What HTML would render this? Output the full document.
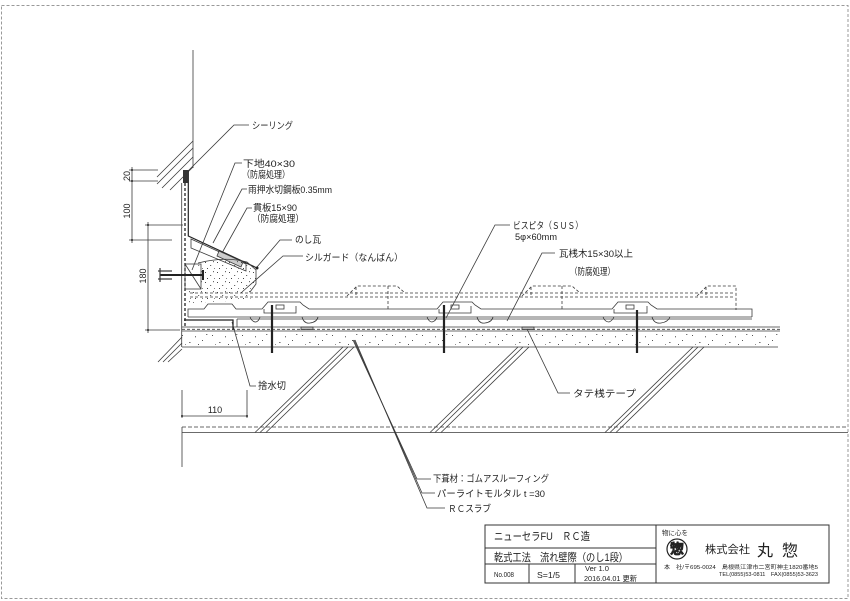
<!DOCTYPE html>
<html><head><meta charset="utf-8">
<style>
html,body{margin:0;padding:0;background:#fff;}
svg{display:block;}
text{font-family:"Liberation Sans","Noto Sans CJK JP",sans-serif;fill:#222;}
</style></head><body>
<svg width="850" height="601" viewBox="0 0 850 601" xmlns="http://www.w3.org/2000/svg">
<defs>
<pattern id="st" width="30" height="16" patternUnits="userSpaceOnUse" x="0" y="331">
 <g fill="#555">
 <rect x="2" y="4" width="1" height="1"/>
 <rect x="9" y="11" width="1.6" height="0.8"/>
 <rect x="15" y="5" width="0.8" height="1.4"/>
 <rect x="22" y="9" width="1" height="1"/>
 <rect x="26" y="3" width="1.4" height="0.8"/>
 <rect x="5" y="13" width="0.8" height="0.8"/>
 <rect x="18" y="13" width="1" height="1"/>
 </g>
</pattern>
<pattern id="st2" width="12" height="10" patternUnits="userSpaceOnUse">
 <g fill="#444">
 <rect x="1" y="2" width="1" height="1"/>
 <rect x="6" y="5" width="1.2" height="0.8"/>
 <rect x="9" y="1" width="0.8" height="1.2"/>
 <rect x="3" y="8" width="1" height="1"/>
 <rect x="10" y="8" width="0.8" height="0.8"/>
 </g>
</pattern>
</defs>
<rect width="850" height="601" fill="#fff"/>
<!-- outer dashed border -->
<rect x="1.5" y="5.5" width="846.5" height="593" fill="none" stroke="#999" stroke-width="1" stroke-dasharray="3 2"/>

<g stroke="#3a3a3a" stroke-width="0.8" fill="none">
 <!-- wall -->
 <line x1="193" y1="50" x2="193" y2="168"/>
 <line x1="157" y1="177" x2="193" y2="141"/>
 <line x1="157" y1="184" x2="193" y2="148"/>
 <line x1="162" y1="188" x2="193" y2="157"/>
 <line x1="170" y1="190" x2="193" y2="167"/>
 <!-- dimension extension lines -->
 <line x1="129" y1="170" x2="158" y2="170"/>
 <line x1="129" y1="181" x2="158" y2="181"/>
 <line x1="129" y1="240" x2="172" y2="240"/>
 <line x1="145" y1="225" x2="183" y2="225"/>
 <line x1="145" y1="330" x2="180" y2="330"/>
 <line x1="132" y1="167" x2="132" y2="243"/>
 <line x1="148" y1="222" x2="148" y2="333"/>
 <!-- base wall lines -->
 <line x1="181.7" y1="183" x2="181.7" y2="347"/>
 <line x1="185" y1="183" x2="185" y2="328" stroke="#222" stroke-width="1.3" stroke-dasharray="3 2"/>
 <!-- flashing -->
 <polyline points="188.3,170 188.3,236 257,268" stroke="#222" stroke-width="1.2"/>
 <!-- upper noshi tile -->
 <polygon points="191,239 246,264 246,271 191,248"/>
 <polygon points="219,251 243,262 241,267 217,256" fill="#ccc"/>
 <!-- nanban stipple -->
 <path d="M198,263 Q225,256 247,262 L256,270 L256,284 L250,300 L188,303 L188,290 L200,290 Z" fill="url(#st2)" stroke="none"/>
 <path d="M198,263 Q225,256 247,262 L256,270 L256,284 L250,292"/>
 <!-- base block -->
 <rect x="185" y="264" width="16" height="25"/>
 <line x1="185" y1="264" x2="201" y2="289"/>
 <!-- bolt -->
 <line x1="160" y1="275" x2="203" y2="275" stroke="#222" stroke-width="2"/>
 <line x1="203" y1="270" x2="203" y2="280" stroke="#222" stroke-width="2"/>
 <line x1="158" y1="271" x2="172" y2="271" stroke-width="1.2"/>
 <line x1="158" y1="279" x2="172" y2="279" stroke-width="1.2"/>
 <line x1="160" y1="268" x2="160" y2="282" stroke-width="1.2"/>

 <!-- dashed upper tiles -->
 <g stroke-dasharray="3 2">
  <line x1="190" y1="293" x2="735" y2="293"/>
  <line x1="190" y1="297" x2="735" y2="297"/>
  <path d="M347,296 L357,286 L397,286 L405,293"/>
  <line x1="356" y1="287" x2="356" y2="296"/>
  <line x1="388" y1="286" x2="388" y2="310"/>
  <path d="M522,296 L532,286 L572,286 L580,293"/>
  <line x1="531" y1="287" x2="531" y2="296"/>
  <line x1="562" y1="286" x2="562" y2="310"/>
  <path d="M697,296 L707,286 L736,286 L736,310"/>
  <line x1="706" y1="287" x2="706" y2="296"/>
 </g>

 <!-- solid tiles -->
 <path d="M188,317 L188,309 L204,309 L208,304 L232,304 L236,309 L262,309 L268,302 L300,302 L303,305 L309,309 L437,309 L443,302 L472,302 L475,305 L481,309 L612,309 L618,302 L648,302 L651,305 L657,309 L752,309 L752,317"/>
 <line x1="188" y1="317" x2="752" y2="317"/>
 <!-- interlocks -->
 <polyline points="264,309 264,313 296,313 296,306"/>
 <rect x="276" y="305" width="8" height="4"/>
 <polyline points="439,309 439,313 471,313 471,306"/>
 <rect x="451" y="305" width="8" height="4"/>
 <polyline points="614,309 614,313 647,313 647,306"/>
 <rect x="626" y="305" width="8" height="4"/>
 <!-- drips -->
 <path d="M302,317 Q304,324 310,323 Q317,322 318,317"/>
 <path d="M477,317 Q479,324 485,323 Q492,322 493,317"/>
 <path d="M652,317 Q654,324 661,323 Q668,322 670,317"/>
 <path d="M250,317 Q252,322 256,322 Q259,321 260,317"/>
 <path d="M427,317 Q429,322 432,322 Q436,321 437,317"/>
 <path d="M603,317 Q605,322 609,322 Q612,321 614,317"/>
 <!-- batten -->
 <line x1="237" y1="319" x2="752" y2="319"/>
 <line x1="237" y1="319" x2="237" y2="327"/>
 <!-- underlay / mortar -->
 <line x1="182" y1="327" x2="780" y2="327"/>
 <line x1="182" y1="329.3" x2="780" y2="329.3" stroke-dasharray="3 2"/>
 <rect x="182" y="331" width="598" height="16" fill="url(#st)" stroke="none"/>
 <line x1="182" y1="331" x2="780" y2="331"/>
 <line x1="182" y1="347" x2="778" y2="347"/>
 <!-- sute mizukiri -->
 <polyline points="184,320 233,320 233,330" stroke="#222" stroke-width="1.3"/>
 <!-- tate tape -->
 <rect x="301" y="327" width="12" height="2.5" fill="#bbb"/>
 <rect x="522" y="327" width="12" height="2.5" fill="#bbb"/>
 <!-- left hatch below -->
 <line x1="158" y1="362" x2="182" y2="337"/>
 <line x1="163" y1="362" x2="182" y2="343"/>
 <line x1="168" y1="362" x2="182" y2="349"/>
 <!-- slab -->
 <line x1="182" y1="427" x2="848" y2="427" stroke-dasharray="4 2"/>
 <line x1="182" y1="432.5" x2="848" y2="432.5"/>
 <line x1="182" y1="427" x2="182" y2="467"/>
 <line x1="255" y1="432.5" x2="343" y2="347"/>
 <line x1="260" y1="432.5" x2="348" y2="347"/>
 <line x1="266" y1="432.5" x2="354" y2="347"/>
 <line x1="430" y1="432.5" x2="518" y2="347"/>
 <line x1="435" y1="432.5" x2="523" y2="347"/>
 <line x1="441" y1="432.5" x2="529" y2="347"/>
 <line x1="605" y1="432.5" x2="693" y2="347"/>
 <line x1="610" y1="432.5" x2="698" y2="347"/>
 <line x1="616" y1="432.5" x2="704" y2="347"/>
 <!-- dim 110 -->
 <line x1="182" y1="390" x2="182" y2="418"/>
 <line x1="247" y1="390" x2="247" y2="418"/>
 <line x1="182" y1="416" x2="247" y2="416"/>

 <!-- leaders -->
 <polyline points="187,172 234,125 249,125"/>
 <polyline points="192,270 235,163 242,163"/>
 <polyline points="213,243 242,189 247,189"/>
 <polyline points="222,253 247,208 252,208"/>
 <polyline points="257,267 280,240 292,240"/>
 <polyline points="242,292 283,256 303,256"/>
 <polyline points="446,318 495,225 510,225"/>
 <polyline points="507,321 542,253 555,253"/>
 <polyline points="527,329 558,393 570,393"/>
 <polyline points="232,322 250,386 256,386"/>
 <polyline points="353,340 417,479 431,479"/>
 <polyline points="354,340 422,493 435,493"/>
 <polyline points="355,340 427,508 445,508"/>
</g>
<!-- screws -->
<g stroke="#222">
 <line x1="272" y1="305" x2="272" y2="353" stroke-width="2.2"/>
 <line x1="444" y1="305" x2="444" y2="353" stroke-width="2.2"/>
 <line x1="637" y1="310" x2="637" y2="353" stroke-width="2.2"/>
</g>
<rect x="183" y="170" width="5" height="13" fill="#333"/>
<circle cx="257" cy="268" r="1.5" fill="#222"/>
<g fill="#222">
 <circle cx="132" cy="170" r="1"/><circle cx="132" cy="181" r="1"/><circle cx="132" cy="240" r="1"/>
 <circle cx="148" cy="225" r="1"/><circle cx="148" cy="330" r="1"/>
 <circle cx="182" cy="416" r="1"/><circle cx="247" cy="416" r="1"/>
</g>

<!-- dimension text -->
<text transform="translate(130,176) rotate(-90)" font-size="9" text-anchor="middle">20</text>
<text transform="translate(130,211) rotate(-90)" font-size="9" text-anchor="middle">100</text>
<text transform="translate(146,276) rotate(-90)" font-size="9" text-anchor="middle">180</text>
<text x="215" y="413" font-size="9" text-anchor="middle">110</text>

<!-- labels -->
<g font-size="9.5">
 <text x="252" y="129" textLength="41" lengthAdjust="spacingAndGlyphs">シーリング</text>
 <text x="243" y="167" textLength="52" lengthAdjust="spacingAndGlyphs">下地40×30</text>
 <text x="242" y="178" textLength="48" lengthAdjust="spacingAndGlyphs">（防腐処理）</text>
 <text x="248" y="193" textLength="84" lengthAdjust="spacingAndGlyphs">雨押水切鋼板0.35mm</text>
 <text x="253" y="211" textLength="44" lengthAdjust="spacingAndGlyphs">貫板15×90</text>
 <text x="252" y="222" textLength="52" lengthAdjust="spacingAndGlyphs">（防腐処理）</text>
 <text x="295" y="243" textLength="26" lengthAdjust="spacingAndGlyphs">のし瓦</text>
 <text x="305" y="261" textLength="98" lengthAdjust="spacingAndGlyphs">シルガード（なんばん）</text>
 <text x="513" y="229" textLength="70" lengthAdjust="spacingAndGlyphs">ビスピタ（ＳＵＳ）</text>
 <text x="515" y="240" textLength="42" lengthAdjust="spacingAndGlyphs">5φ×60mm</text>
 <text x="559" y="257" textLength="74" lengthAdjust="spacingAndGlyphs">瓦桟木15×30以上</text>
 <text x="570" y="275" textLength="45" lengthAdjust="spacingAndGlyphs">（防腐処理）</text>
 <text x="573" y="397" textLength="63" lengthAdjust="spacingAndGlyphs">タテ桟テープ</text>
 <text x="258" y="389" textLength="28" lengthAdjust="spacingAndGlyphs">捨水切</text>
 <text x="433" y="482" textLength="116" lengthAdjust="spacingAndGlyphs">下葺材：ゴムアスルーフィング</text>
 <text x="437" y="497" textLength="108" lengthAdjust="spacingAndGlyphs">パーライトモルタル t =30</text>
 <text x="448" y="512" textLength="43" lengthAdjust="spacingAndGlyphs">ＲＣスラブ</text>
</g>

<!-- title block -->
<g stroke="#333" stroke-width="1" fill="none">
 <rect x="485" y="525" width="344" height="58"/>
 <line x1="656" y1="525" x2="656" y2="583"/>
 <line x1="485" y1="548" x2="656" y2="548"/>
 <line x1="485" y1="564" x2="656" y2="564"/>
 <line x1="529" y1="564" x2="529" y2="583"/>
 <line x1="575" y1="564" x2="575" y2="583"/>
</g>
<text x="494" y="540" font-size="11" textLength="96" lengthAdjust="spacingAndGlyphs">ニューセラFU　ＲＣ造</text>
<text x="494" y="561" font-size="11" textLength="134" lengthAdjust="spacingAndGlyphs">乾式工法　流れ壁際（のし1段）</text>
<text x="494" y="577" font-size="7" textLength="20" lengthAdjust="spacingAndGlyphs">No.008</text>
<text x="537" y="578" font-size="8.5" textLength="23" lengthAdjust="spacingAndGlyphs">S=1/5</text>
<text x="585" y="571" font-size="7.5" textLength="24" lengthAdjust="spacingAndGlyphs">Ver 1.0</text>
<text x="584" y="581" font-size="7.5" textLength="53" lengthAdjust="spacingAndGlyphs">2016.04.01 更新</text>
<text x="662" y="535" font-size="6.5" textLength="26" lengthAdjust="spacingAndGlyphs">物に心を</text>
<circle cx="677" cy="549" r="10" fill="none" stroke="#222" stroke-width="1.2"/>
<text x="677" y="554" font-size="14" text-anchor="middle" font-weight="bold" fill="none" stroke="#222" stroke-width="0.7">惣</text>
<text x="705" y="553" font-size="11" textLength="45" lengthAdjust="spacingAndGlyphs">株式会社</text>
<text x="757" y="556" font-size="16">丸</text>
<text x="782" y="556" font-size="16">惣</text>
<text x="664" y="569" font-size="5.5" textLength="154" lengthAdjust="spacingAndGlyphs">本　社/〒695-0024　島根県江津市二宮町神主1820番地5</text>
<text x="719" y="576" font-size="5.5" textLength="99" lengthAdjust="spacingAndGlyphs">TEL(0855)53-0811　FAX(0855)53-3623</text>
</svg>
</body></html>
